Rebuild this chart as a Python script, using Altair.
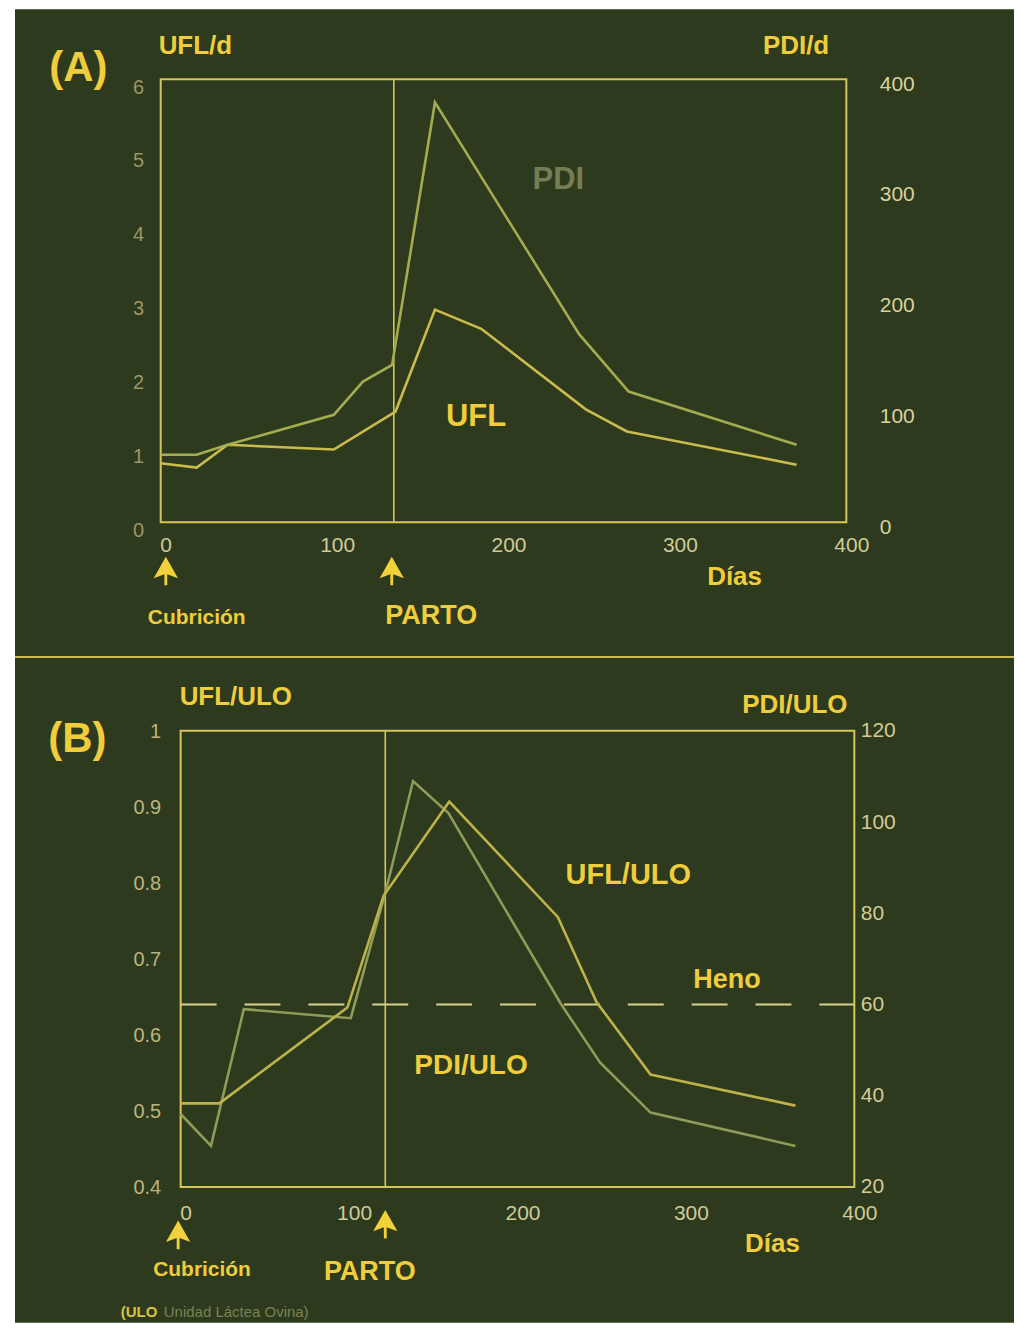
import altair as alt
import pandas as pd

FONT = "Liberation Sans"

# ---------------- Panel A data ----------------
a_days_ufl = [0, 21, 39, 101, 137, 160, 187, 248, 272, 371]
a_ufl = [0.80, 0.74, 1.05, 0.985, 1.50, 2.88, 2.62, 1.53, 1.23, 0.78]
a_days_pdi = [0, 21, 39, 101, 118, 135, 160, 244, 273, 371]
a_pdi = [61, 61, 70, 97, 127, 142, 379, 170, 118, 70]
a_parto_day = 136
a_left_ticks = [0, 1, 2, 3, 4, 5, 6]
a_right_ticks = [0, 100, 200, 300, 400]
x_ticks = [0, 100, 200, 300, 400]

# annotation texts of panel A (day, left-axis units)
a_big_labels = ["(A)"]
a_big_days = [-48]
a_big_y = [6.15]
a_title_left = ["UFL/d"]
a_title_left_day = [-1.2]
a_title_right = ["PDI/d"]
a_title_right_day = [390]
a_title_y = [6.45]
a_mid_labels = ["Días", "PARTO", "UFL"]
a_mid_days = [334.8, 157.8, 184]
a_mid_y = [-0.743, -1.27, 1.42]
a_mid_sizes = [26, 27, 31]
a_small_labels = ["Cubrición"]
a_small_days = [21]
a_small_y = [-1.297]
a_faded_labels = ["PDI"]
a_faded_days = [232]
a_faded_y = [4.635]
a_arrow_days = [3, 134.8]
a_arrow_y = [-0.66, -0.66]

# ---------------- Panel B data ----------------
b_days_ufl = [0, 23, 99, 120.5, 159.5, 224, 247, 279, 365]
b_ufl = [0.51, 0.51, 0.636, 0.783, 0.907, 0.755, 0.643, 0.548, 0.507]
b_days_pdi = [0, 18, 37.5, 101, 121.5, 138, 159, 226, 249, 279, 365]
b_pdi = [36, 29, 59, 57, 84.5, 109, 102, 60, 47.3, 36.3, 29]
b_parto_day = 121.5
b_heno = 60
b_left_ticks = [0.4, 0.5, 0.6, 0.7, 0.8, 0.9, 1.0]
b_right_ticks = [20, 40, 60, 80, 100, 120]

b_big_labels = ["(B)"]
b_big_days = [-61.3]
b_big_y = [0.989]
b_title_left = ["UFL/ULO"]
b_title_left_day = [-0.6]
b_title_left_y = [1.045]
b_title_right = ["PDI/ULO"]
b_title_right_day = [395.9]
b_title_right_y = [1.034]
b_mid_labels = ["UFL/ULO", "Heno", "PDI/ULO", "Días", "PARTO"]
b_mid_days = [265.8, 324.4, 172.4, 351.4, 112.3]
b_mid_y = [0.811, 0.672, 0.559, 0.325, 0.288]
b_mid_sizes = [29, 27, 28, 26, 27]
b_small_labels = ["Cubrición"]
b_small_days = [12.7]
b_small_y = [0.291]
b_arrow_days = [-1.5, 121.5]
b_arrow_y = [0.337, 0.351]
b_note_bold = ["(ULO"]
b_note_bold_day = [-35.6]
b_note_text = ["Unidad Láctea Ovina)"]
b_note_text_day = [-10]
b_note_y = [0.236]

# ---------------- styles ----------------
BG = "#2d3a1e"
BOX = "#d6c65a"
TXT = "#efcd3c"
A_LL = "#9d9664"
A_RL = "#d8d29c"
X_LAB = "#d0ca9a"
B_LL = "#bdb57e"
B_RL = "#d4cc94"
A_UFL_C = "#cbbb4c"
A_PDI_C = "#a4ac4f"
B_UFL_C = "#bdb34a"
B_PDI_C = "#8f9b58"
HENO_C = "#d8d08c"
FADED = "#777d52"
NOTE_FADED = "#7b8350"
ARROW = ("M0,-1L0.85,0.5L0.1,0.22L0.1,1L-0.1,1L-0.1,0.22L-0.85,0.5Z")

W = 695


def sc(dom):
    return alt.Scale(domain=dom, nice=False, zero=False)


def text_layer(labels, days, ys, size, color, xdom, ydom, weight="bold", align="center"):
    df = pd.DataFrame({"day": days, "y": ys, "label": labels})
    enc = dict(x=alt.X("day:Q", scale=sc(xdom), axis=None),
               y=alt.Y("y:Q", scale=sc(ydom), axis=None),
               text="label:N")
    if isinstance(size, list):
        df["size"] = size
        return alt.Chart(df).mark_text(font=FONT, fontWeight=weight, color=color,
                                       align=align, baseline="middle").encode(
            size=alt.Size("size:Q", scale=None, legend=None), **enc)
    return alt.Chart(df).mark_text(font=FONT, fontWeight=weight, color=color, fontSize=size,
                                   align=align, baseline="middle").encode(**enc)


def arrows(days, ys, xdom, ydom):
    df = pd.DataFrame({"day": days, "y": ys})
    return alt.Chart(df).mark_point(shape=ARROW, filled=True, color="#f2d23a", opacity=1,
                                    size=820, strokeWidth=0).encode(
        x=alt.X("day:Q", scale=sc(xdom), axis=None),
        y=alt.Y("y:Q", scale=sc(ydom), axis=None))


def x_axis(pad, off):
    return alt.Axis(values=x_ticks, title=None, domain=False, ticks=False, grid=False,
                    labelFont=FONT, labelFontSize=21, labelColor=X_LAB, labelPadding=pad,
                    labelOffset=off, labelFlush=False, zindex=1, format="d", orient="bottom")


def y_axis(values, orient, color, pad, off, size, fmt):
    return alt.Axis(values=values, orient=orient, title=None, domain=False, ticks=False,
                    grid=False, labelFont=FONT, labelFontSize=size, labelColor=color,
                    labelPadding=pad, labelOffset=off, zindex=1, format=fmt)


one = pd.DataFrame({"a": [0]})

# ================= Panel A =================
AX = [0, 404.66]
AYL = [0, 6]
AYR = [0, 400]

a_bg = alt.Chart(one).mark_rect(color=BG).encode(
    x=alt.value(-146), x2=alt.value(855), y=alt.value(-70), y2=alt.value(580))
a_sep = alt.Chart(one).mark_rule(color="#c9b94e", strokeWidth=2).encode(
    x=alt.value(-146), x2=alt.value(855), y=alt.value(579))
a_box = alt.Chart(pd.DataFrame({"x0": [0], "x1": [400], "y0": [0], "y1": [6]})).mark_rect(
    fillOpacity=0, stroke=BOX, strokeWidth=2).encode(
    x=alt.X("x0:Q", scale=sc(AX), axis=x_axis(12, 5)), x2="x1:Q",
    y=alt.Y("y0:Q", scale=sc(AYL), axis=y_axis(a_left_ticks, "left", A_LL, 17, 8, 20, "d")),
    y2="y1:Q")
a_rule = alt.Chart(pd.DataFrame({"day": [a_parto_day], "y0": [0], "y1": [6]})).mark_rule(
    color=BOX, strokeWidth=1.6).encode(
    x=alt.X("day:Q", scale=sc(AX), axis=None),
    y=alt.Y("y0:Q", scale=sc(AYL), axis=None), y2="y1:Q")
a_ufl_line = alt.Chart(pd.DataFrame({"day": a_days_ufl, "v": a_ufl})).mark_line(
    color=A_UFL_C, strokeWidth=2.6).encode(
    x=alt.X("day:Q", scale=sc(AX), axis=None),
    y=alt.Y("v:Q", scale=sc(AYL), axis=None))
a_pdi_line = alt.Chart(pd.DataFrame({"day": a_days_pdi, "v": a_pdi})).mark_line(
    color=A_PDI_C, strokeWidth=2.6).encode(
    x=alt.X("day:Q", scale=sc(AX), axis=None),
    y=alt.Y("v:Q", scale=sc(AYR), axis=y_axis(a_right_ticks, "right", A_RL, 25, 5, 21, "d")))

panel_a = alt.layer(
    a_bg, a_sep, a_box, a_rule, a_ufl_line, a_pdi_line,
    text_layer(a_big_labels, a_big_days, a_big_y, 42, TXT, AX, AYL),
    text_layer(a_title_left, a_title_left_day, a_title_y, 26, TXT, AX, AYL, align="left"),
    text_layer(a_title_right, a_title_right_day, a_title_y, 26, TXT, AX, AYL, align="right"),
    text_layer(a_mid_labels, a_mid_days, a_mid_y, a_mid_sizes, TXT, AX, AYL),
    text_layer(a_small_labels, a_small_days, a_small_y, 21, TXT, AX, AYL),
    text_layer(a_faded_labels, a_faded_days, a_faded_y, 31, FADED, AX, AYL),
    arrows(a_arrow_days, a_arrow_y, AX, AYL),
).resolve_scale(x="independent", y="independent").properties(width=W, height=444)

# ================= Panel B =================
BX = [-11.85, 400]
BYL = [0.4, 1.0]
BYR = [20, 120]

b_bg = alt.Chart(one).mark_rect(color=BG).encode(
    x=alt.value(-146), x2=alt.value(855), y=alt.value(-73), y2=alt.value(593))
b_box = alt.Chart(pd.DataFrame({"x0": [0], "x1": [400], "y0": [0.4], "y1": [1.0]})).mark_rect(
    fillOpacity=0, stroke=BOX, strokeWidth=2).encode(
    x=alt.X("x0:Q", scale=sc(BX), axis=x_axis(16, 5)), x2="x1:Q",
    y=alt.Y("y0:Q", scale=sc(BYL), axis=y_axis(b_left_ticks, "left", B_LL, 0, 1, 20, ".1~f")),
    y2="y1:Q")
b_rule = alt.Chart(pd.DataFrame({"day": [b_parto_day], "y0": [0.4], "y1": [1.0]})).mark_rule(
    color=BOX, strokeWidth=1.6).encode(
    x=alt.X("day:Q", scale=sc(BX), axis=None),
    y=alt.Y("y0:Q", scale=sc(BYL), axis=None), y2="y1:Q")
b_heno_rule = alt.Chart(pd.DataFrame({"x0": [0], "x1": [400], "v": [b_heno]})).mark_rule(
    color=HENO_C, strokeWidth=2, strokeDash=[36, 28]).encode(
    x=alt.X("x0:Q", scale=sc(BX), axis=None), x2="x1:Q",
    y=alt.Y("v:Q", scale=sc(BYR), axis=None))
b_ufl_line = alt.Chart(pd.DataFrame({"day": b_days_ufl, "v": b_ufl})).mark_line(
    color=B_UFL_C, strokeWidth=2.6).encode(
    x=alt.X("day:Q", scale=sc(BX), axis=None),
    y=alt.Y("v:Q", scale=sc(BYL), axis=None))
b_pdi_line = alt.Chart(pd.DataFrame({"day": b_days_pdi, "v": b_pdi})).mark_line(
    color=B_PDI_C, strokeWidth=2.6).encode(
    x=alt.X("day:Q", scale=sc(BX), axis=None),
    y=alt.Y("v:Q", scale=sc(BYR), axis=y_axis(b_right_ticks, "right", B_RL, 6, 0, 21, "d")))

panel_b = alt.layer(
    b_bg, b_box, b_rule, b_heno_rule, b_pdi_line, b_ufl_line,
    text_layer(b_big_labels, b_big_days, b_big_y, 42, TXT, BX, BYL),
    text_layer(b_title_left, b_title_left_day, b_title_left_y, 26, TXT, BX, BYL, align="left"),
    text_layer(b_title_right, b_title_right_day, b_title_right_y, 26, TXT, BX, BYL, align="right"),
    text_layer(b_mid_labels, b_mid_days, b_mid_y, b_mid_sizes, TXT, BX, BYL),
    text_layer(b_small_labels, b_small_days, b_small_y, 21, TXT, BX, BYL),
    text_layer(b_note_bold, b_note_bold_day, b_note_y, 15, "#d8c440", BX, BYL, align="left"),
    text_layer(b_note_text, b_note_text_day, b_note_y, 15, NOTE_FADED, BX, BYL,
               weight="normal", align="left"),
    arrows(b_arrow_days, b_arrow_y, BX, BYL),
).resolve_scale(x="independent", y="independent").properties(width=W, height=457)

chart = alt.vconcat(panel_a, panel_b, spacing=0).properties(
    padding={"left": 6, "top": 0, "right": 0, "bottom": 0}
).configure_view(strokeWidth=0)

chart.save("out.html", embed_options={"renderer": "svg", "actions": False})
